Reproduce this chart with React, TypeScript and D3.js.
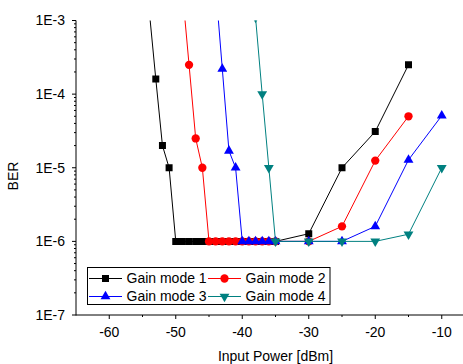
import React from 'react';
import * as d3 from 'd3';

// Input power [dBm] and BER for each gain mode
const mode1X = [-54, -53, -52, -51, -50, -49, -48, -47, -46, -45, -44, -43, -42, -41, -40, -39, -38, -37, -36, -35, -30, -25, -20, -15];
const mode1Y = [1.4e-3, 1.6e-4, 2e-5, 1e-5, 1e-6, 1e-6, 1e-6, 1e-6, 1e-6, 1e-6, 1e-6, 1e-6, 1e-6, 1e-6, 1e-6, 1e-6, 1e-6, 1e-6, 1e-6, 1e-6, 1.27e-6, 1e-5, 3.1e-5, 2.5e-4];

const mode2X = [-49, -48, -47, -46, -45, -44, -43, -42, -41, -40, -39, -38, -37, -36, -35, -30, -25, -20, -15];
const mode2Y = [2.5e-3, 2.5e-4, 2.5e-5, 1e-5, 1e-6, 1e-6, 1e-6, 1e-6, 1e-6, 1e-6, 1e-6, 1e-6, 1e-6, 1e-6, 1e-6, 1e-6, 1.6e-6, 1.25e-5, 5e-5];

const mode3X = [-44, -43, -42, -41, -40, -39, -38, -37, -36, -35, -30, -25, -20, -15, -10];
const mode3Y = [2.9e-3, 2.2e-4, 1.7e-5, 1e-5, 1e-6, 1e-6, 1e-6, 1e-6, 1e-6, 1e-6, 1e-6, 1e-6, 1.6e-6, 1.28e-5, 5.1e-5];

const mode4X = [-38, -37, -36, -35, -30, -25, -20, -15, -10];
const mode4Y = [1.1e-3, 1e-4, 1e-5, 1e-6, 1e-6, 1e-6, 1e-6, 1.25e-6, 1e-5];

const seriesNames = ['Gain mode 1', 'Gain mode 2', 'Gain mode 3', 'Gain mode 4'];
const seriesColors = ['#000000', '#ff0000', '#0000ff', '#008080'];
const xTicks = [-60, -50, -40, -30, -20, -10];
const yTickLabels = ['1E-7', '1E-6', '1E-5', '1E-4', '1E-3'];

const W = 463;
const H = 364;
const left = 76;
const top = 20.5;
const bottom = 315;
const font = 'Liberation Sans, Arial, sans-serif';

const x = d3.scaleLinear().domain([-65, -5]).range([left, left + 60 * 6.65]);
const y = d3.scaleLog().domain([1e-7, 1e-3]).range([bottom, top]);

const symbols = [d3.symbolSquare, d3.symbolCircle, d3.symbolTriangle, d3.symbolTriangle];
const symbolSizes = [49, 54, 42, 42];

function marker(i: number, cx: number, cy: number, key: string) {
  const path = d3.symbol().type(symbols[i]).size(symbolSizes[i])() || '';
  const rot = i === 3 ? ' rotate(180)' : '';
  return <path key={key} d={path} transform={`translate(${cx},${cy})${rot}`} fill={seriesColors[i]} />;
}

export default function App() {
  const series = [
    { xs: mode1X, ys: mode1Y },
    { xs: mode2X, ys: mode2Y },
    { xs: mode3X, ys: mode3Y },
    { xs: mode4X, ys: mode4Y },
  ];
  const line = d3.line<[number, number]>().x((d) => x(d[0])).y((d) => y(d[1]));
  const right = x.range()[1];

  const minorY: number[] = [];
  for (let e = -7; e < -3; e++) {
    for (let m = 2; m <= 9; m++) minorY.push(m * Math.pow(10, e));
  }
  const minorX = [-55, -45, -35, -25, -15, -5];

  const legendRows = [
    [0, 1],
    [2, 3],
  ];

  return (
    <svg width={W} height={H} style={{ position: 'absolute', left: 0, top: 0, background: '#fff' }}>
      <defs>
        <clipPath id="plot">
          <rect x={left} y={top} width={right - left} height={bottom - top} />
        </clipPath>
      </defs>

      <g clipPath="url(#plot)">
        {series.map((s, i) => (
          <g key={i}>
            <path
              d={line(s.xs.map((v, j) => [v, s.ys[j]] as [number, number])) || ''}
              fill="none"
              stroke={seriesColors[i]}
              strokeWidth={1}
            />
            {s.xs.map((v, j) => marker(i, x(v), y(s.ys[j]), `${i}-${j}`))}
          </g>
        ))}
      </g>

      {/* axes */}
      <g stroke="#000" strokeWidth={1}>
        <line x1={left} x2={left} y1={top} y2={bottom + 0.5} />
        <line x1={left} x2={right} y1={bottom} y2={bottom} />
        {yTickLabels.map((_, k) => {
          const yy = y(Math.pow(10, -7 + k));
          return <line key={'ym' + k} x1={left - 4} x2={left} y1={yy} y2={yy} />;
        })}
        {minorY.map((v, k) => (
          <line key={'yn' + k} x1={left - 2} x2={left} y1={y(v)} y2={y(v)} />
        ))}
        {xTicks.map((v) => (
          <line key={'xm' + v} x1={x(v)} x2={x(v)} y1={bottom} y2={bottom + 4} />
        ))}
        {minorX.map((v) => (
          <line key={'xn' + v} x1={x(v)} x2={x(v)} y1={bottom} y2={bottom + 2} />
        ))}
      </g>

      <g fontFamily={font} fontSize={14} fill="#000">
        {yTickLabels.map((t, k) => (
          <text key={t} x={left - 11} y={y(Math.pow(10, -7 + k))} dy="0.35em" textAnchor="end">
            {t}
          </text>
        ))}
        {xTicks.map((v) => (
          <text key={v} x={x(v)} y={bottom + 22} textAnchor="middle">
            {v}
          </text>
        ))}
      </g>

      <text x={(left + right) / 2} y={361} textAnchor="middle" fontFamily={font} fontSize={14}>
        Input Power [dBm]
      </text>
      <text
        transform={`translate(18,176) rotate(-90)`}
        textAnchor="middle"
        fontFamily={font}
        fontSize={14}
      >
        BER
      </text>

      {/* legend */}
      <rect x={87.5} y={267.5} width={242.5} height={37} fill="#fff" stroke="#000" strokeWidth={1} />
      {legendRows.map((row, r) =>
        row.map((i, c) => {
          const x0 = c === 0 ? 89 : 208;
          const yy = r === 0 ? 278.5 : 296.5;
          return (
            <g key={i}>
              <line x1={x0} x2={x0 + 33} y1={yy} y2={yy} stroke={seriesColors[i]} strokeWidth={1} />
              {marker(i, x0 + 16.5, yy, 'lg' + i)}
              <text x={x0 + 37.5} y={yy} dy="0.35em" fontFamily={font} fontSize={14}>
                {seriesNames[i]}
              </text>
            </g>
          );
        })
      )}
    </svg>
  );
}
